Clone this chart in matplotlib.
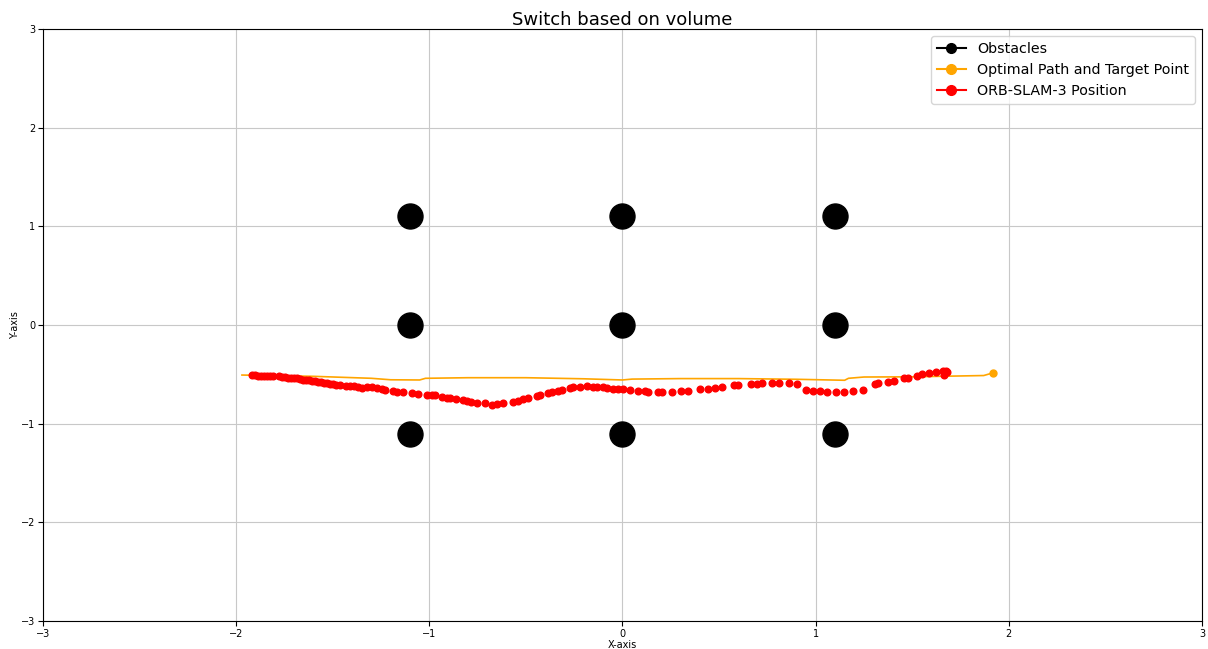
import matplotlib
matplotlib.use("Agg")
import matplotlib.pyplot as plt
from matplotlib.lines import Line2D

# obstacle centres
obs_x = [-1.1, -1.1, -1.1, 0.0, 0.0, 0.0, 1.1, 1.1, 1.1]
obs_y = [1.1, 0.0, -1.1, 1.1, 0.0, -1.1, 1.1, 0.0, -1.1]

# optimal path (orange line)
path_x = [-1.97, -1.6, -1.3, -1.2, -1.05, -1.02, -0.8, -0.5, -0.2, 0.0, 0.05,
          0.3, 0.6, 0.9, 1.15, 1.17, 1.25, 1.5, 1.87, 1.92]
path_y = [-0.507, -0.52, -0.54, -0.555, -0.557, -0.54, -0.534, -0.534, -0.545,
          -0.557, -0.548, -0.543, -0.543, -0.55, -0.56, -0.54, -0.527, -0.525,
          -0.512, -0.484]
target = (1.92, -0.484)

# ORB-SLAM-3 positions
slam_x = [-1.918, -1.902, -1.887, -1.871, -1.856, -1.840, -1.825, -1.809, -1.778,
          -1.763, -1.747, -1.732, -1.716, -1.701, -1.685, -1.670, -1.654, -1.638,
          -1.623, -1.607, -1.592, -1.576, -1.561, -1.545, -1.530, -1.514, -1.498,
          -1.483, -1.462, -1.431, -1.411, -1.390, -1.369, -1.349,
          -1.324, -1.298, -1.273, -1.247, -1.230, -1.187, -1.169, -1.135, -1.091,
          -1.057, -1.014, -0.988, -0.971, -0.936, -0.910, -0.893, -0.864, -0.824,
          -0.807, -0.784, -0.752, -0.712, -0.677,
          -0.648, -0.620, -0.566, -0.540, -0.514, -0.488, -0.444, -0.427, -0.384,
          -0.367, -0.333, -0.315, -0.272, -0.255, -0.220, -0.183, -0.151, -0.131,
          -0.100, -0.082, -0.048, -0.025,
          0.004, 0.038, 0.078, 0.116, 0.133, 0.182, 0.203, 0.255, 0.303, 0.341,
          0.401, 0.441, 0.479, 0.517, 0.579, 0.600,
          0.664, 0.695, 0.721, 0.776, 0.812, 0.864, 0.905, 0.950, 0.985, 1.023,
          1.061, 1.104, 1.147, 1.195, 1.244,
          1.307, 1.324, 1.373, 1.407, 1.459, 1.476, 1.523, 1.552, 1.587, 1.623,
          1.661, 1.674, 1.666, 1.679]
slam_y = [-0.507, -0.507, -0.512, -0.512, -0.512, -0.517, -0.517, -0.517, -0.517,
          -0.522, -0.527, -0.532, -0.537, -0.537, -0.542, -0.548, -0.553, -0.558,
          -0.558, -0.563, -0.568, -0.573, -0.578, -0.583, -0.588, -0.593, -0.598,
          -0.603, -0.608, -0.613, -0.618, -0.623, -0.629, -0.634,
          -0.626, -0.629, -0.636, -0.649, -0.659, -0.669, -0.676, -0.682, -0.692,
          -0.703, -0.710, -0.713, -0.713, -0.727, -0.737, -0.743, -0.750, -0.760,
          -0.767, -0.777, -0.788, -0.794, -0.806,
          -0.801, -0.794, -0.777, -0.767, -0.753, -0.743, -0.720, -0.707, -0.692,
          -0.682, -0.669, -0.659, -0.642, -0.632, -0.626, -0.618, -0.626, -0.629,
          -0.632, -0.636, -0.646, -0.649,
          -0.652, -0.659, -0.666, -0.672, -0.676, -0.676, -0.676, -0.676, -0.669,
          -0.666, -0.652, -0.646, -0.636, -0.626, -0.611, -0.611,
          -0.601, -0.598, -0.588, -0.588, -0.588, -0.588, -0.601, -0.659, -0.666,
          -0.672, -0.679, -0.682, -0.676, -0.666, -0.656,
          -0.598, -0.585, -0.575, -0.565, -0.540, -0.534, -0.520, -0.500, -0.484,
          -0.474, -0.467, -0.464, -0.507, -0.480]

fig = plt.figure(figsize=(12.08, 6.49), dpi=100)
ax = fig.add_axes([0.0356, 0.0431, 0.9594, 0.9122])

ax.plot(obs_x, obs_y, 'o', color='black', markersize=18)
ax.plot(path_x, path_y, '-', color='orange', linewidth=1.2)
ax.plot(target[0], target[1], 'o', color='orange', markersize=5)
ax.plot(slam_x, slam_y, 'o', color='red', markersize=4.8)

ax.set_xlim(-3, 3)
ax.set_ylim(-3, 3)
ax.grid(True, color='#c8c8c8')
ax.set_axisbelow(True)
ax.tick_params(labelsize=7, pad=2)
ax.set_xlabel('X-axis', fontsize=7, labelpad=1)
ax.set_ylabel('Y-axis', fontsize=7, labelpad=1)
ax.set_title('Switch based on volume', fontsize=13, pad=3)

handles = [Line2D([0], [0], color='black', marker='o', markersize=7),
           Line2D([0], [0], color='orange', marker='o', markersize=7),
           Line2D([0], [0], color='red', marker='o', markersize=7)]
labels = ['Obstacles', 'Optimal Path and Target Point', 'ORB-SLAM-3 Position']
ax.legend(handles, labels, loc='upper right', fontsize=10.3,
          labelspacing=0.5, borderaxespad=0.5)

fig.savefig('out.png', dpi=100)
